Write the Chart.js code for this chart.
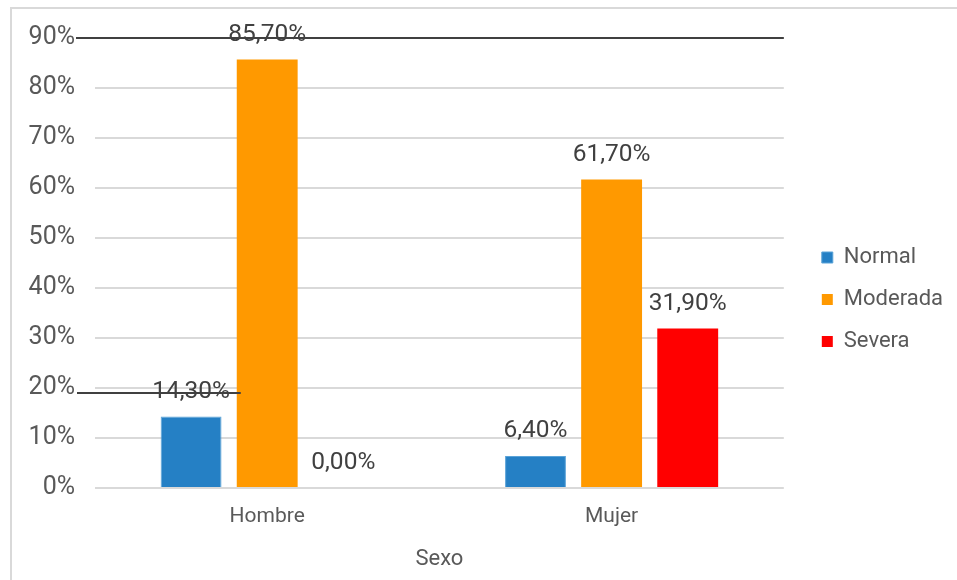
<!DOCTYPE html>
<html lang="es">
<head>
    <meta charset="UTF-8">
    <title>Sexo</title>
    <script src="https://cdn.jsdelivr.net/npm/chart.js"></script>
    <style>
        body { margin: 0; background: #fff; overflow: hidden; }
        #frame {
            position: absolute;
            left: 10px;
            top: 7px;
            width: 980px;
            height: 600px;
            border: 2px solid #d9d9d9;
        }
        #wrap { position: absolute; left: 0; top: 0; width: 957px; height: 580px; }
    </style>
</head>
<body>
    <div id="frame"></div>
    <div id="wrap">
        <canvas id="sexoChart" width="957" height="580"></canvas>
    </div>

    <script>
        var categorias = ['Hombre', 'Mujer'];
        var normal = [14.3, 6.4];
        var moderada = [85.7, 61.7];
        var severa = [0.0, 31.9];
        var ticksY = [0, 10, 20, 30, 40, 50, 60, 70, 80, 90];

        var fuente = 'Roboto, "Liberation Sans", Arial, sans-serif';
        var gris = '#595959';

        // etiquetas de valor encima de cada barra, con coma decimal
        var etiquetas = {
            id: 'etiquetas',
            afterDatasetsDraw: function(chart) {
                var ctx = chart.ctx;
                ctx.save();
                ctx.font = '24.5px ' + fuente;
                ctx.fillStyle = '#404040';
                ctx.textAlign = 'center';
                ctx.textBaseline = 'middle';
                chart.data.datasets.forEach(function(ds, i) {
                    chart.getDatasetMeta(i).data.forEach(function(bar, j) {
                        var txt = ds.data[j].toFixed(2).replace('.', ',') + '%';
                        ctx.fillText(txt, bar.x, bar.y - 25);
                    });
                });
                ctx.restore();
            }
        };

        // lineas oscuras sobre la cuadricula
        var rayas = {
            id: 'rayas',
            afterDraw: function(chart) {
                var ctx = chart.ctx;
                var y = chart.scales.y;
                var area = chart.chartArea;
                var orange = chart.getDatasetMeta(1).data[0];
                ctx.save();
                ctx.strokeStyle = '#404040';
                ctx.lineWidth = 2;
                ctx.beginPath();
                ctx.moveTo(76, y.getPixelForValue(90));
                ctx.lineTo(area.right, y.getPixelForValue(90));
                ctx.moveTo(77, y.getPixelForValue(19));
                ctx.lineTo(orange.x - orange.width / 2 + 4, y.getPixelForValue(19));
                ctx.stroke();
                ctx.restore();
            }
        };

        // deja un hueco extra entre el area del grafico y la leyenda
        var huecoLeyenda = {
            id: 'huecoLeyenda',
            beforeInit: function(chart) {
                var fit = chart.legend.fit;
                chart.legend.fit = function() {
                    fit.call(this);
                    this.width += 18;
                };
            },
            afterLayout: function(chart) {
                chart.legend.left += 18;
                chart.legend.top -= 12;
            }
        };

        var ctx = document.getElementById('sexoChart').getContext('2d');
        var chart = new Chart(ctx, {
            type: 'bar',
            data: {
                labels: categorias,
                datasets: [{
                    label: 'Normal',
                    data: normal,
                    backgroundColor: '#2580c5',
                    borderColor: '#5aa3d8',
                    borderWidth: 1
                }, {
                    label: 'Moderada',
                    data: moderada,
                    backgroundColor: '#ff9900'
                }, {
                    label: 'Severa',
                    data: severa,
                    backgroundColor: '#ff0000'
                }]
            },
            options: {
                responsive: false,
                animation: false,
                categoryPercentage: 0.663,
                barPercentage: 0.8,
                layout: { padding: { top: 38, right: 4, bottom: 7, left: 0 } },
                plugins: {
                    tooltip: { enabled: false },
                    legend: {
                        position: 'right',
                        labels: {
                            boxWidth: 11,
                            boxHeight: 11,
                            padding: 20,
                            color: gris,
                            font: { size: 22, family: fuente }
                        }
                    }
                },
                scales: {
                    x: {
                        afterFit: function(scale) { scale.height = 85; },
                        grid: { display: false, drawTicks: false },
                        border: { display: false },
                        ticks: {
                            padding: 16,
                            color: gris,
                            font: { size: 21, family: fuente }
                        },
                        title: {
                            display: true,
                            text: 'Sexo',
                            color: gris,
                            padding: { top: 0, bottom: 0 },
                            font: { size: 22, family: fuente }
                        }
                    },
                    y: {
                        min: 0,
                        max: 90,
                        afterBuildTicks: function(scale) {
                            scale.ticks = ticksY.map(function(v) { return { value: v }; });
                        },
                        afterFit: function(scale) { scale.width = 95; },
                        grid: { color: '#d9d9d9', lineWidth: 2, drawTicks: false },
                        border: { display: false },
                        ticks: {
                            padding: 20,
                            color: gris,
                            font: { size: 25, family: fuente },
                            callback: function(v) { return v + '%'; }
                        }
                    }
                }
            },
            plugins: [etiquetas, rayas, huecoLeyenda]
        });
    </script>
</body>
</html>
